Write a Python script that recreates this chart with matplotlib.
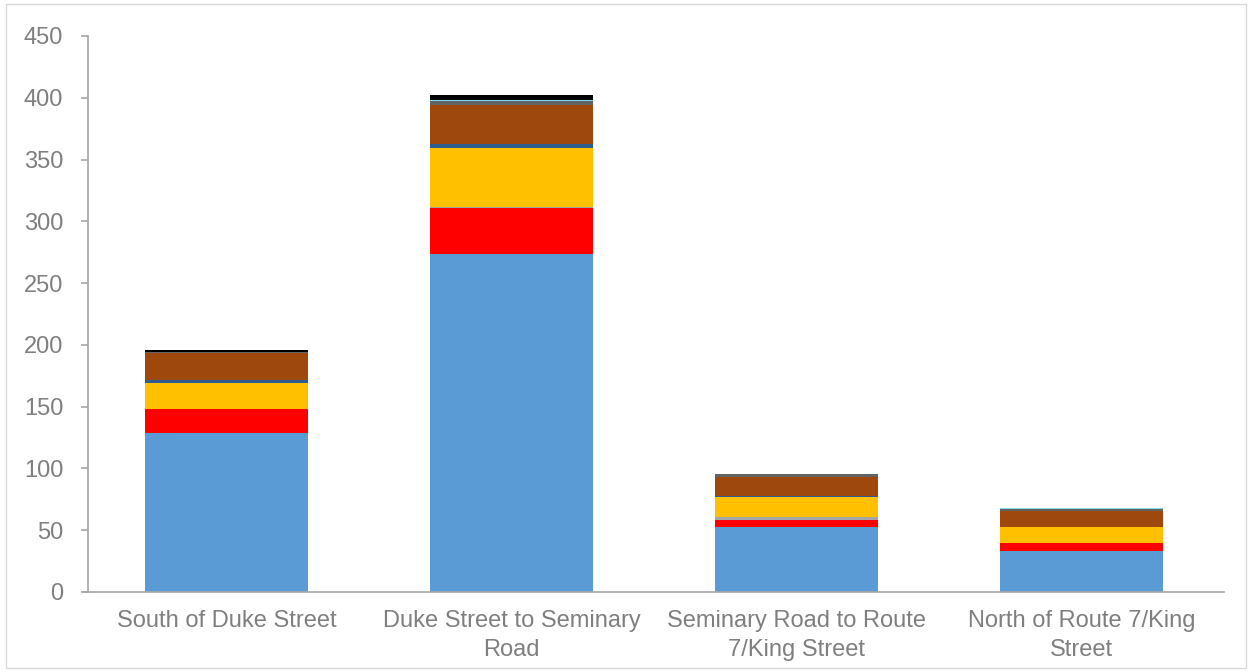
import matplotlib.pyplot as plt
from matplotlib.patches import Rectangle
import numpy as np

plt.rcParams['font.family'] = ['Liberation Sans', 'DejaVu Sans']

categories = ["South of Duke Street", "Duke Street to Seminary\nRoad",
              "Seminary Road to Route\n7/King Street", "North of Route 7/King\nStreet"]

# stacked segments, bottom to top
seg_blue = [129, 273.5, 53, 33.4]
seg_red = [19, 37, 5.3, 6]
seg_grey = [0.3, 0.8, 2.7, 0.3]
seg_yellow = [21, 48, 16, 12.6]
seg_darkblue = [2.5, 3, 0.4, 0.4]
seg_brown = [22, 32, 15.8, 12.6]
seg_darkgrey = [0.3, 2.7, 2.5, 2]
seg_cyan = [0.3, 1, 0, 0.6]
seg_black = [1.5, 4, 0, 0]

segments = [seg_blue, seg_red, seg_grey, seg_yellow, seg_darkblue,
            seg_brown, seg_darkgrey, seg_cyan, seg_black]
colors = ['#5B9BD5', '#FF0000', '#A5A5A5', '#FFC000', '#2E5C8E',
          '#9E480E', '#636363', '#7FDDE6', '#000000']

fig = plt.figure(figsize=(12.49, 6.72), dpi=100)
ax = fig.add_axes([84 / 1249, 1 - 592 / 672, (1224 - 84) / 1249, (592 - 36) / 672])

x = np.arange(len(categories))
bottom = np.zeros(len(categories))
for vals, c in zip(segments, colors):
    ax.bar(x, vals, bottom=bottom, width=0.572, color=c, linewidth=0)
    bottom += np.array(vals)

ax.set_xlim(-0.5, 3.5)
ax.set_ylim(0, 450)
ax.set_yticks(range(0, 451, 50))
ax.set_xticks(x)
ax.set_xticklabels(categories, linespacing=1.4)

for s in ['top', 'right']:
    ax.spines[s].set_visible(False)
for s in ['left', 'bottom']:
    ax.spines[s].set_color('#A6A6A6')
    ax.spines[s].set_linewidth(1.2)
ax.spines['left'].set_position(('data', -0.485))

ax.tick_params(axis='y', colors='#A6A6A6', labelcolor='#7F7F7F', labelsize=17,
               length=5, width=1.2, pad=13)
ax.tick_params(axis='x', length=0, labelcolor='#7F7F7F', labelsize=17, pad=13)

fig.patches.append(Rectangle((6 / 1249, 4 / 672), 1240 / 1249, 664 / 672,
                             transform=fig.transFigure, fill=False,
                             edgecolor='#D9D9D9', linewidth=1))

plt.savefig("out.png", dpi=100)
